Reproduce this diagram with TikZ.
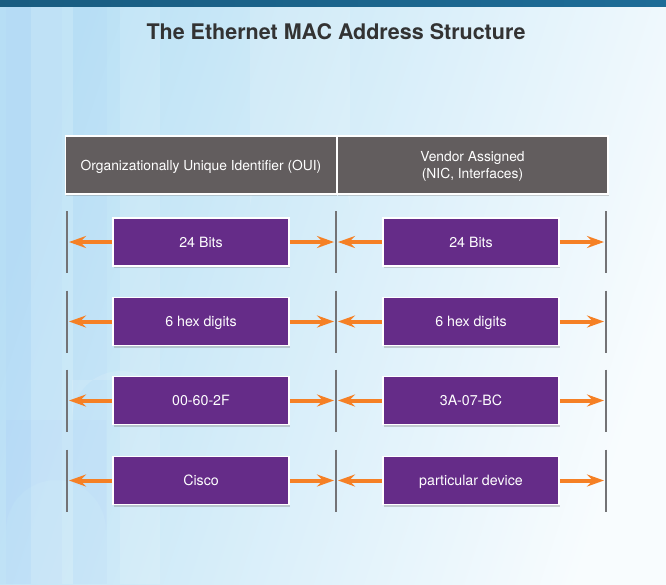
\documentclass[tikz,border=0pt]{standalone}
\usepackage{fontspec}
\setmainfont{TeX Gyre Heros}
\usetikzlibrary{arrows.meta,shadows}
\definecolor{topbar}{HTML}{1D6C97}
\definecolor{bgblue}{HTML}{BAE1F5}
\definecolor{bgwhite}{HTML}{F8FCFE}
\definecolor{hdrgray}{HTML}{625D5E}
\definecolor{purp}{HTML}{652C88}
\definecolor{orng}{HTML}{F58025}
\definecolor{bargray}{HTML}{737376}
\definecolor{titlegray}{HTML}{333333}
\begin{document}
\begin{tikzpicture}[x=1pt,y=-1pt,
  hdr/.style={draw=white, line width=1.4pt, fill=hdrgray, text=white,
    minimum width=271pt, minimum height=58pt, inner sep=0pt, align=center,
    font=\fontsize{13.8}{17.5}\selectfont,
    drop shadow={opacity=0.35, shadow xshift=0.8pt, shadow yshift=-2pt}},
  pbox/.style={draw=white, line width=1.6pt, fill=purp, text=white,
    minimum width=176pt, minimum height=48pt, inner sep=0pt,
    text height=10pt, text depth=0pt,
    font=\fontsize{14.2}{16}\selectfont,
    drop shadow={opacity=0.35, shadow xshift=0.8pt, shadow yshift=-2pt}},
  hlabel/.style={text=white, font=\fontsize{13.8}{17.5}\selectfont, align=center, inner sep=0pt},
  vbar/.style={draw=bargray, line width=2.8pt},
  oarrow/.style={draw=orng, line width=4pt,
    -{Stealth[length=17pt, width=12pt, inset=6pt]}},
  faint/.style={fill=white, opacity=0.12},
  faintd/.style={fill=bgblue!80!blue, opacity=0.06}
]
\useasboundingbox (0,0) rectangle (666,584);
% background
\shade[top color=bgblue, bottom color=bgwhite, shading angle=72] (0,0) rectangle (666,584);
\fill[faintd] (6,6) rectangle (31,584);
\fill[faintd] (73,6) rectangle (107,584);
\fill[faint] (31,6) rectangle (73,584);
\fill[faint] (120,6) rectangle (160,584);
\fill[faintd] (0,6) rectangle (62,584);
\fill[faint] (250,6) -- (250,210) arc[start angle=180, end angle=360, radius=50] -- (350,6) -- cycle;
\fill[faint] (72,380) -- (72,420) arc[start angle=180, end angle=360, radius=49] -- (170,380) -- cycle;
\fill[faintd] (6,420) -- (6,530) arc[start angle=180, end angle=360, radius=50] -- (106,420) -- cycle;
\shade[left color=topbar!85!black, right color=topbar] (0,0) rectangle (666,6);
% title
\node[font=\bfseries\fontsize{21.5}{24}\selectfont, text=titlegray] (title) at (336,32) {The Ethernet MAC Address Structure};
% headers
\node[hdr] (oui) at (201,165) {};
\node[hlabel, text height=10pt, text depth=0pt] (ouit) at (oui.center) {Organizationally Unique Identifier (OUI)};
\node[hdr] (ven) at (472.5,165) {};
\node[hlabel] (vent) at ([yshift=-1.5pt]ven.center) {Vendor Assigned\\(NIC, Interfaces)};
% rows
\foreach \i/\y/\lt/\rt in {1/242/24 Bits/24 Bits, 2/321.5/6 hex digits/6 hex digits, 3/400.5/00-60-2F/3A-07-BC, 4/480.5/Cisco/particular device}{
  \coordinate (a\i t) at (67,\y-31);  \coordinate (a\i b) at (67,\y+31);
  \coordinate (m\i t) at (336,\y-31); \coordinate (m\i b) at (336,\y+31);
  \coordinate (z\i t) at (606,\y-31); \coordinate (z\i b) at (606,\y+31);
  \draw[vbar] (a\i t) -- (a\i b);
  \draw[vbar] (m\i t) -- (m\i b);
  \draw[vbar] (z\i t) -- (z\i b);
  \coordinate (tipA\i) at (69,\y);
  \coordinate (tipB\i) at (334,\y);
  \coordinate (tipC\i) at (338,\y);
  \coordinate (tipD\i) at (604,\y);
  \node[pbox] (L\i) at (201,\y) {\lt};
  \node[pbox] (R\i) at (471,\y) {\rt};
  \draw[oarrow] (L\i.west) -- (tipA\i);
  \draw[oarrow] (L\i.east) -- (tipB\i);
  \draw[oarrow] (R\i.west) -- (tipC\i);
  \draw[oarrow] (R\i.east) -- (tipD\i);
}
\end{tikzpicture}
\end{document}
